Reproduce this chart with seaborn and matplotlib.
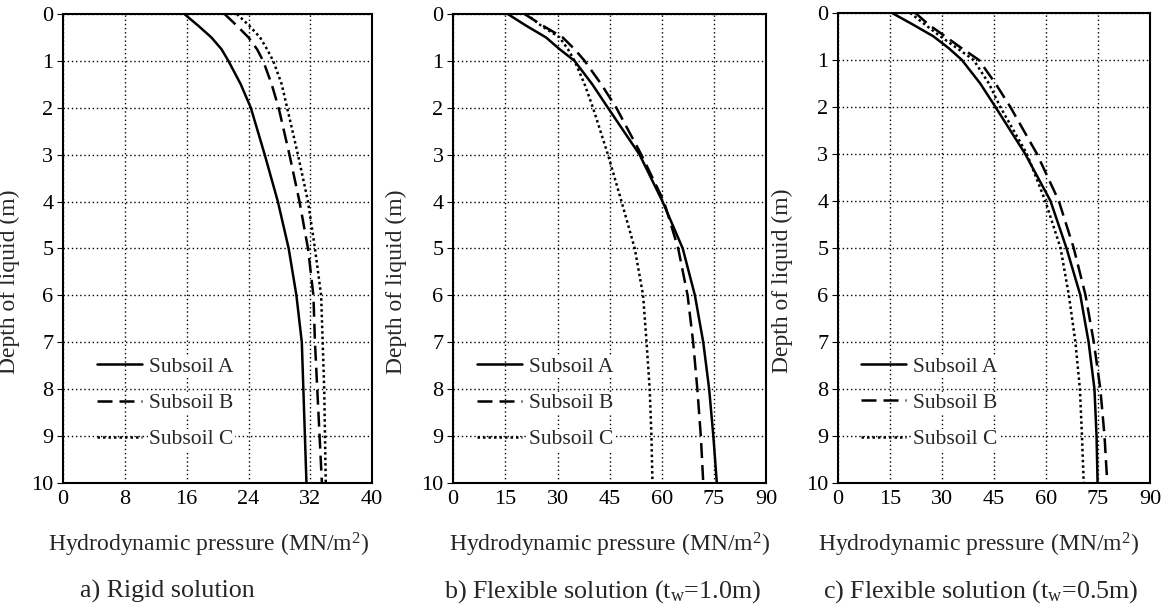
import pandas as pd
import seaborn as sns
import matplotlib.pyplot as plt

# depth of liquid (m) shared by all curves
depth = [0, 0.25, 0.5, 0.75, 1, 1.5, 2, 3, 4, 5, 6, 7, 8, 9, 10]

# a) rigid solution
rigid_a = [15.7, 17.5, 19.2, 20.5, 21.4, 23.0, 24.3, 26.1, 27.8, 29.2, 30.2, 30.9, 31.1, 31.3, 31.5]
rigid_b = [20.9, 22.5, 24.0, 25.1, 25.9, 27.0, 27.9, 29.3, 30.6, 31.7, 32.4, 32.6, 32.9, 33.2, 33.5]
rigid_c = [22.5, 24.1, 25.5, 26.4, 27.2, 28.3, 29.0, 30.4, 31.7, 32.6, 33.4, 33.6, 33.8, 33.9, 34.0]

# b) flexible solution, tw = 1.0 m
flex1_a = [15.7, 21.0, 26.7, 30.6, 34.9, 40.0, 44.5, 53.6, 60.2, 66.0, 69.5, 71.9, 73.6, 74.8, 75.8]
flex1_b = [20.5, 25.8, 31.5, 34.9, 37.8, 42.6, 46.9, 54.1, 60.6, 64.7, 67.4, 69.0, 70.2, 71.2, 71.9]
flex1_c = [21.0, 25.3, 30.6, 33.0, 34.9, 37.8, 40.2, 44.5, 48.4, 52.2, 54.6, 55.6, 56.5, 57.0, 57.3]

# c) flexible solution, tw = 0.5 m
flex05_a = [15.5, 21.6, 27.5, 31.9, 35.7, 41.0, 45.4, 54.0, 61.3, 65.9, 69.9, 72.3, 74.0, 74.6, 74.9]
flex05_b = [22.3, 26.1, 30.9, 35.6, 40.6, 45.4, 49.7, 57.4, 63.7, 68.0, 71.4, 73.8, 75.7, 76.9, 77.7]
flex05_c = [20.8, 25.1, 29.5, 34.3, 39.1, 43.5, 46.8, 54.5, 59.8, 64.2, 66.6, 68.5, 69.8, 70.4, 70.9]

subsoils = ['Subsoil A', 'Subsoil B', 'Subsoil C']
x_ticks = [[0, 8, 16, 24, 32, 40], [0, 15, 30, 45, 60, 75, 90], [0, 15, 30, 45, 60, 75, 90]]
captions = ['a) Rigid solution',
            r'b) Flexible solution (t$_{\mathrm{w}}$=1.0m)',
            r'c) Flexible solution (t$_{\mathrm{w}}$=0.5m)']
panels = [[rigid_a, rigid_b, rigid_c], [flex1_a, flex1_b, flex1_c], [flex05_a, flex05_b, flex05_c]]

sns.set_style('white')
plt.rcParams['font.family'] = ['Liberation Serif', 'DejaVu Serif']
plt.rcParams['mathtext.fontset'] = 'custom'
plt.rcParams['mathtext.rm'] = 'Liberation Serif'
plt.rcParams['mathtext.it'] = 'Liberation Serif:italic'

line_styles = ['-', (0, (6, 2.8)), (0, (1, 1.2))]

fig = plt.figure(figsize=(11.68, 6.09), dpi=100)
boxes = [[0.054, 0.207, 0.2646, 0.770],
         [0.388, 0.207, 0.268, 0.770],
         [0.7175, 0.207, 0.267, 0.772]]
ylabel_x = [-0.14, -0.147, -0.144]
xlabel_x = [0.47, 0.5, 0.45]
caption_x = [0.055, -0.03, -0.048]
legend_x = [0.082, 0.049, 0.046]

for i, box in enumerate(boxes):
    ax = fig.add_axes(box)
    for name, values, ls in zip(subsoils, panels[i], line_styles):
        df = pd.DataFrame({'pressure': values, 'depth': depth})
        sns.lineplot(data=df, x='pressure', y='depth', orient='y', ax=ax,
                     color='black', linewidth=1.8, linestyle=ls, label=name)
    ax.set_xlim(x_ticks[i][0], x_ticks[i][-1])
    ax.set_ylim(10, 0)
    ax.set_xticks(x_ticks[i])
    ax.set_yticks(range(0, 11))
    ax.grid(True, color='black', linestyle=(0, (1, 2)), linewidth=1.0)
    for sp in ax.spines.values():
        sp.set_color('black')
        sp.set_linewidth(1.5)
    ax.tick_params(axis='both', labelsize=16, colors='black')
    ax.tick_params(axis='y', length=4, width=0.8, pad=3, direction='out', left=True)
    ax.tick_params(axis='x', length=0, pad=5)
    ax.set_xlabel('')
    ax.set_ylabel('Depth of liquid (m)', fontsize=17)
    ax.yaxis.set_label_coords(ylabel_x[i], 0.43)
    ax.text(xlabel_x[i], -0.132, r'Hydrodynamic pressure (MN/m$^{2}$)',
            transform=ax.transAxes, ha='center', va='center', fontsize=17)
    ax.text(caption_x[i], -0.232, captions[i], transform=ax.transAxes,
            ha='left', va='center', fontsize=18.7)
    leg = ax.legend(loc='upper left', bbox_to_anchor=(legend_x[i], 0.287), frameon=False,
                    fontsize=15.5, handlelength=2.1, handletextpad=0.33,
                    labelspacing=0.75, borderaxespad=0)
    for t in leg.get_texts():
        t.set_bbox(dict(facecolor='white', edgecolor='none', pad=1))

fig.savefig('out.png', dpi=100)
